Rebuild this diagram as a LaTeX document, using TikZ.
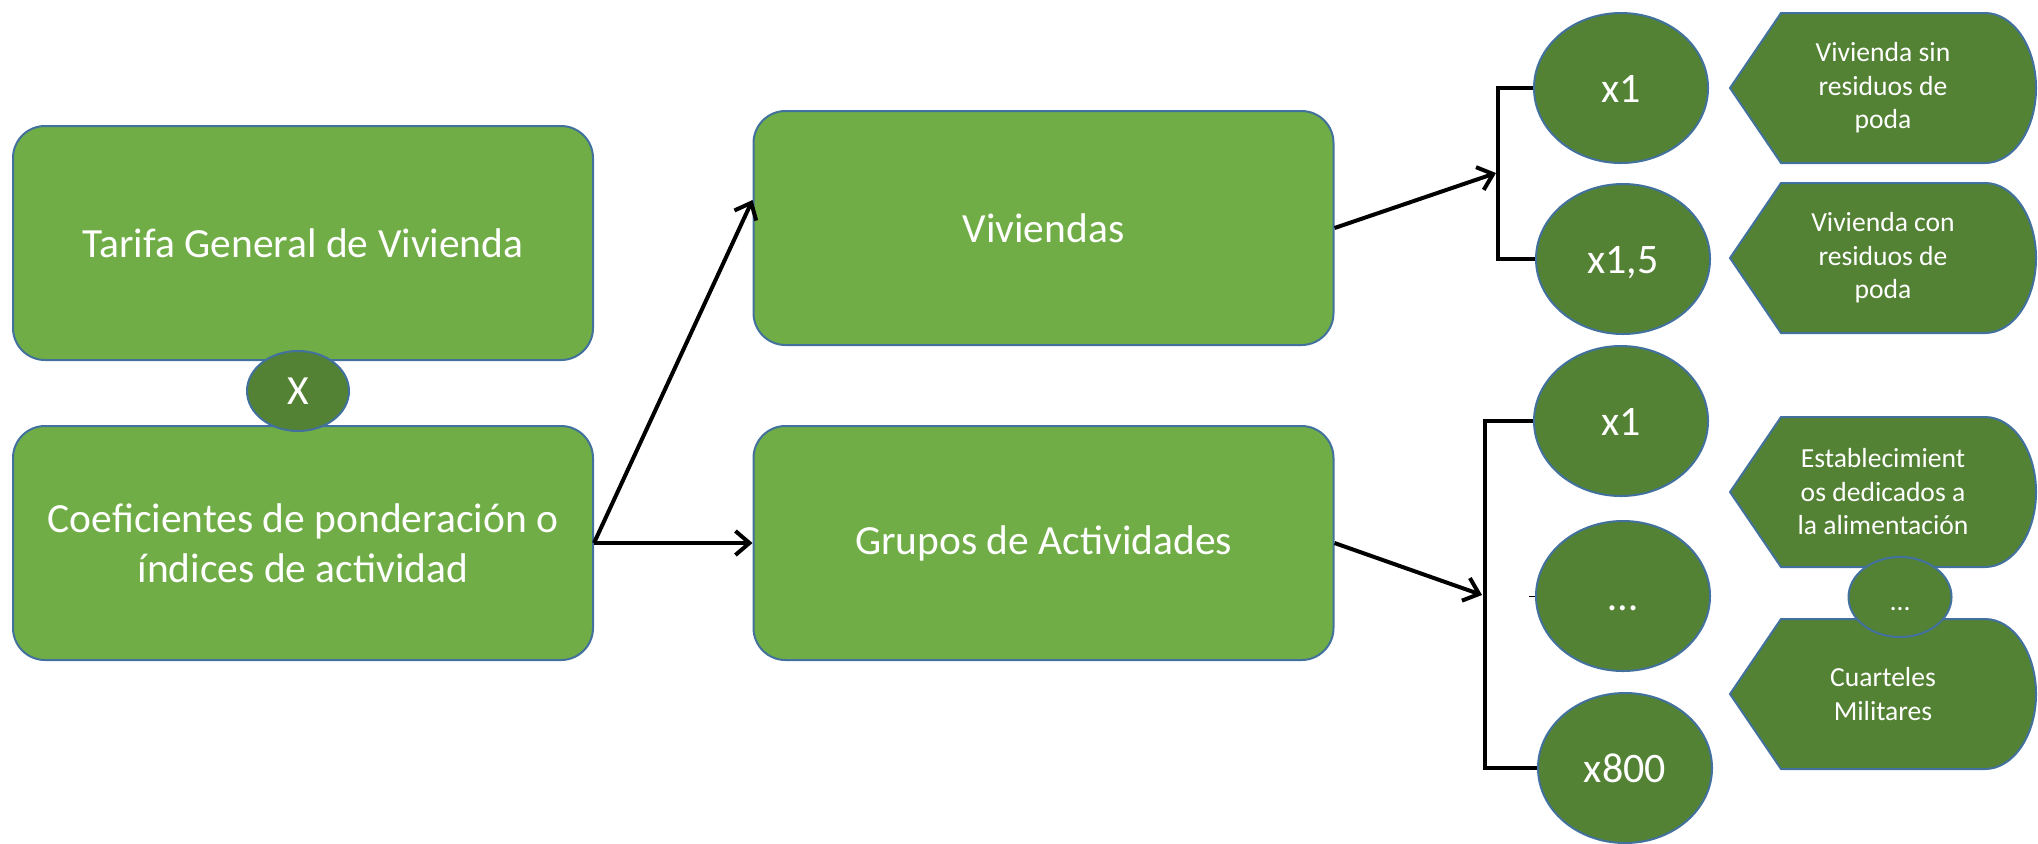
\documentclass[tikz,border=0pt]{standalone}
\usepackage{fontspec}
\setmainfont{Carlito}
\usetikzlibrary{arrows.meta,shapes.geometric,calc}
\definecolor{lightg}{HTML}{70AD47}
\definecolor{darkg}{HTML}{548235}
\definecolor{edgeb}{HTML}{41719C}
\newcommand{\dispshape}[1]{%
  \path[dispbox] (1730,#1) -- (1781,#1-75) -- (1985,#1-75)
    .. controls (2013.2,#1-75) and (2036,#1-41.4) .. (2036,#1)
    .. controls (2036,#1+41.4) and (2013.2,#1+75) .. (1985,#1+75)
    -- (1781,#1+75) -- cycle;}
\begin{document}
\begin{tikzpicture}[x=0.5pt,y=-0.5pt,
  bigbox/.style={rectangle, rounded corners=16pt, fill=lightg, draw=edgeb, line width=1pt,
    minimum width=290pt, minimum height=117pt, text=white,
    font=\fontsize{20.75}{25}\selectfont, align=center, inner sep=0pt},
  valcirc/.style={ellipse, fill=darkg, draw=edgeb, line width=1pt, minimum width=87pt,
    minimum height=75pt, inner sep=0pt, text=white, text height=17pt, text depth=3pt,
    font=\fontsize{21}{25}\selectfont},
  dispbox/.style={fill=darkg, draw=edgeb, line width=1pt},
  disptext/.style={text=white, font=\fontsize{13.8}{16.75}\selectfont, align=center, inner sep=0pt},
  conn/.style={draw=black, line width=2pt, -{Straight Barb[length=7pt,width=12pt,line width=2pt]}},
  brack/.style={draw=black, line width=1.8pt},
]
\useasboundingbox (0,0) rectangle (2038,843);

% left and middle boxes
\node[bigbox] (tarifa) at (303,243) {Tarifa General de Vivienda};
\node[bigbox] (coef) at (303,543) {Coeficientes de ponderación o\\índices de actividad};
\node[bigbox] (viv) at (1043.5,228) {Viviendas};
\node[bigbox] (grupos) at (1043.5,543) {Grupos de Actividades};
\node[ellipse, fill=darkg, draw=edgeb, line width=1pt, minimum width=51pt, minimum height=40pt,
  inner sep=0pt, text=white, font=\fontsize{20.75}{25}\selectfont] (xc) at (298,391) {X};

% value circles
\node[valcirc] (c1) at (1621,88) {x1};
\node[valcirc] (c2) at (1623,259) {x1,5};
\node[valcirc] (c3) at (1621,421) {x1};
\node[valcirc] (c4) at (1623,596) {…};
\node[valcirc] (c5) at (1625,768) {x800};

% display shapes
\dispshape{88}
\dispshape{258}
\dispshape{492}
\dispshape{694}
\node[disptext] (p1) at (1883,88) {Vivienda sin\\residuos de\\poda};
\node[disptext] (p2) at (1883,258) {Vivienda con\\residuos de\\poda};
\node[disptext] (p3) at (1883,492) {Establecimient\\os dedicados a\\la alimentación};
\node[disptext] (p4) at (1883,694) {Cuarteles\\Militares};
\node[ellipse, fill=darkg, draw=edgeb, line width=1pt, minimum width=51.5pt, minimum height=40pt,
  inner sep=0pt, text=white, text height=15pt, text depth=2pt,
  font=\fontsize{13.8}{16.75}\selectfont] (pd) at (1900,597) {…};

% brackets
\coordinate (b1) at (1498,173);
\coordinate (b2) at (1485,595);
\draw[brack] (c1.west) -- (c1.west -| b1) -- (c2.west -| b1) -- (c2.west);
\draw[brack] (c3.west) -- (c3.west -| b2) -- (c5.west -| b2) -- (c5.west);
\draw[line width=0.5pt] ([xshift=-3pt]c4.west) -- (c4.west);

% connectors
\draw[conn] (coef.east) -- ([yshift=14pt]viv.west);
\draw[conn] (coef.east) -- (grupos.west);
\draw[conn] (viv.east) -- ([xshift=-1pt]b1);
\draw[conn] (grupos.east) -- ([xshift=-1.5pt]b2);
\end{tikzpicture}
\end{document}
